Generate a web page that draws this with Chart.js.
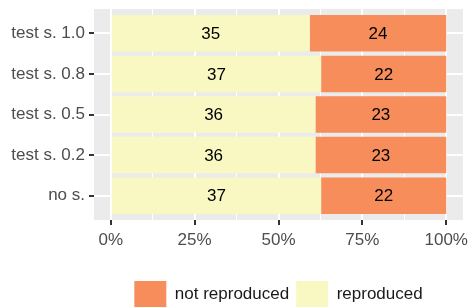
<!DOCTYPE html>
<html>
<head>
<meta charset="utf-8">
<script src="https://cdn.jsdelivr.net/npm/chart.js@4/dist/chart.umd.min.js"></script>
<style>
  html, body { margin: 0; padding: 0; background: #ffffff; }
  #wrap { width: 471px; height: 307px; }
</style>
</head>
<body>
<div id="wrap"><canvas id="chart" width="471" height="307"></canvas></div>
<script>
// data (top row first)
const categories = ["test s. 1.0", "test s. 0.8", "test s. 0.5", "test s. 0.2", "no s."];
const reproduced = [35, 37, 36, 36, 37];
const notReproduced = [24, 22, 23, 23, 22];
const xTicks = [0, 12.5, 25, 37.5, 50, 62.5, 75, 87.5, 100];

const FONT = "'Liberation Sans', Arial, sans-serif";
const AXIS_GREY = "#4D4D4D";
const FSIZE = 17;

const share = (counts, i) => (counts[i] / (reproduced[i] + notReproduced[i])) * 100;
const toPoints = (counts) => categories.map((_, i) => ({ x: share(counts, i), y: i, n: counts[i] }));

// grey ggplot-like panel behind everything
const panelBg = {
  id: "panelBg",
  beforeDraw(chart) {
    const { ctx, chartArea: a } = chart;
    ctx.save();
    ctx.fillStyle = "#EBEBEB";
    ctx.fillRect(a.left, a.top, a.right - a.left, a.bottom - a.top);
    ctx.restore();
  },
};

// counts written in the middle of each segment
const segLabels = {
  id: "segLabels",
  afterDatasetsDraw(chart) {
    const { ctx } = chart;
    ctx.save();
    ctx.font = FSIZE + "px " + FONT;
    ctx.fillStyle = "#000000";
    ctx.textAlign = "center";
    ctx.textBaseline = "middle";
    chart.data.datasets.forEach((ds, d) => {
      chart.getDatasetMeta(d).data.forEach((bar, i) => {
        ctx.fillText(String(ds.data[i].n), (bar.x + bar.base) / 2, bar.y + 1);
      });
    });
    ctx.restore();
  },
};

const isMajor = (v) => v % 25 === 0;
const noMargins = (scale) => {
  scale.paddingTop = 0;
  scale.paddingBottom = 0;
  scale.paddingLeft = 0;
  scale.paddingRight = 0;
};

new Chart(document.getElementById("chart"), {
  type: "bar",
  data: {
    datasets: [
      {
        label: "reproduced",
        data: toPoints(reproduced),
        backgroundColor: "#FAF8C2",
        borderWidth: 0,
        barPercentage: 0.9,
        categoryPercentage: 1.0,
      },
      {
        label: "not reproduced",
        data: toPoints(notReproduced),
        backgroundColor: "#F68D5B",
        borderWidth: 0,
        barPercentage: 0.9,
        categoryPercentage: 1.0,
      },
    ],
  },
  options: {
    indexAxis: "y",
    responsive: false,
    animation: false,
    layout: { padding: { top: 9, right: 8, left: 0, bottom: -11 } },
    plugins: {
      tooltip: { enabled: false },
      legend: {
        position: "bottom",
        fullSize: false,
        reverse: true,
        labels: {
          boxWidth: 32,
          boxHeight: 27,
          padding: 7,
          color: "#1A1A1A",
          font: { family: FONT, size: FSIZE },
        },
      },
    },
    scales: {
      x: {
        type: "linear",
        stacked: true,
        min: -5,
        max: 105,
        afterBuildTicks(scale) {
          scale.ticks = xTicks.map((v) => ({ value: v }));
        },
        afterFit(scale) {
          scale.height = 54;
          noMargins(scale);
        },
        border: { display: false },
        grid: {
          color: "#FFFFFF",
          lineWidth: (c) => (isMajor(c.tick.value) ? 2 : 1),
          tickColor: (c) => (isMajor(c.tick.value) ? "#333333" : "rgba(0,0,0,0)"),
          tickWidth: 2,
          tickLength: 5,
        },
        ticks: {
          autoSkip: false,
          maxRotation: 0,
          padding: 5,
          color: AXIS_GREY,
          font: { family: FONT, size: FSIZE },
          callback: (v) => (isMajor(v) ? v + "%" : ""),
        },
      },
      y: {
        type: "linear",
        stacked: true,
        reverse: true,
        offset: false,
        min: -0.6,
        max: categories.length - 0.4,
        afterBuildTicks(scale) {
          scale.ticks = categories.map((_, i) => ({ value: i }));
        },
        afterFit(scale) {
          scale.width = 94;
          noMargins(scale);
        },
        border: { display: false },
        grid: {
          offset: false,
          color: "#FFFFFF",
          lineWidth: 2,
          tickColor: "#333333",
          tickWidth: 2,
          tickLength: 5,
        },
        ticks: {
          autoSkip: false,
          padding: 4,
          color: AXIS_GREY,
          font: { family: FONT, size: FSIZE },
          callback: (v) => categories[v] ?? "",
        },
      },
    },
  },
  plugins: [panelBg, segLabels],
});
</script>
</body>
</html>
